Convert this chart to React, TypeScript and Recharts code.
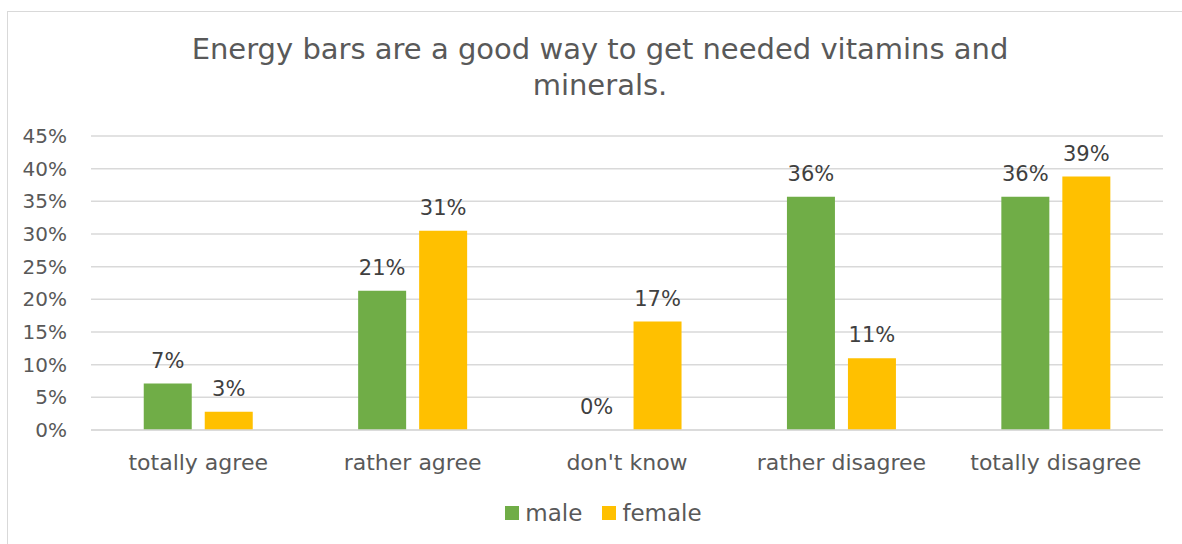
import React from "react";
import {
  BarChart,
  Bar,
  XAxis,
  YAxis,
  CartesianGrid,
  Legend,
  LabelList,
  Rectangle,
} from "recharts";

const categories = [
  "totally agree",
  "rather agree",
  "don't know",
  "rather disagree",
  "totally disagree",
];
const maleValues = [0.071, 0.213, 0, 0.357, 0.357];
const femaleValues = [0.028, 0.305, 0.166, 0.11, 0.388];
const yTicks = [0, 0.05, 0.1, 0.15, 0.2, 0.25, 0.3, 0.35, 0.4, 0.45];

const MALE = "#70AD47";
const FEMALE = "#FFC000";
const FONT = "'Century Gothic', 'DejaVu Sans', sans-serif";

const data = categories.map((name, i) => ({
  name,
  male: maleValues[i],
  female: femaleValues[i],
}));

const pct = (v: number) => `${Math.round(v * 100)}%`;

// zero values still need their label, but no visible bar
const barShape = (props: any) =>
  props.height < 1 ? <g /> : <Rectangle {...props} />;

const renderLegend = () => (
  <div
    style={{
      display: "flex",
      justifyContent: "center",
      alignItems: "center",
      fontFamily: FONT,
      fontSize: 23,
      color: "#595959",
      gap: 20,
      paddingTop: 6,
      paddingLeft: 44,
    }}
  >
    {[
      { label: "male", color: MALE },
      { label: "female", color: FEMALE },
    ].map((item) => (
      <div key={item.label} style={{ display: "flex", alignItems: "center" }}>
        <span
          style={{
            width: 14,
            height: 14,
            background: item.color,
            display: "inline-block",
            marginRight: 6,
          }}
        />
        <span>{item.label}</span>
      </div>
    ))}
  </div>
);

export default function App() {
  return (
    <div
      style={{
        position: "relative",
        width: 1182,
        height: 544,
        overflow: "hidden",
        background: "#fff",
      }}
    >
      <style>{`body{margin:0;overflow:hidden;}`}</style>
      <div
        style={{
          position: "absolute",
          left: 7,
          top: 11,
          width: 1220,
          height: 600,
          border: "1px solid #d9d9d9",
        }}
      />
      <div
        style={{
          position: "absolute",
          left: 0,
          top: 31,
          width: 1200,
          textAlign: "center",
          fontFamily: FONT,
          fontSize: 29,
          lineHeight: "36px",
          color: "#595959",
        }}
      >
        Energy bars are a good way to get needed vitamins and
        <br />
        minerals.
      </div>
      <div style={{ position: "absolute", left: 0, top: 0 }}>
        <BarChart
          width={1182}
          height={544}
          data={data}
          margin={{ top: 136, right: 19, left: 0, bottom: 10 }}
          barGap={13}
          barCategoryGap="24.6%"
        >
          <CartesianGrid vertical={false} stroke="#d9d9d9" strokeWidth={1.5} />
          <XAxis
            dataKey="name"
            axisLine={{ stroke: "#d9d9d9", strokeWidth: 1.5 }}
            tickLine={false}
            tickMargin={18}
            height={64}
            interval={0}
            tick={{ fontSize: 22, fill: "#595959", fontFamily: FONT }}
          />
          <YAxis
            width={91}
            domain={[0, 0.45]}
            ticks={yTicks}
            tickFormatter={pct}
            axisLine={false}
            tickLine={false}
            tickMargin={18}
            tick={{ fontSize: 20, fill: "#595959", fontFamily: FONT }}
          />
          <Legend verticalAlign="bottom" height={40} content={renderLegend} />
          <Bar
            dataKey="male"
            fill={MALE}
            minPointSize={0.5}
            shape={barShape}
            isAnimationActive={false}
          >
            <LabelList
              dataKey="male"
              position="top"
              offset={16}
              formatter={pct}
              style={{ fontSize: 21, fill: "#404040", fontFamily: FONT }}
            />
          </Bar>
          <Bar
            dataKey="female"
            fill={FEMALE}
            shape={barShape}
            isAnimationActive={false}
          >
            <LabelList
              dataKey="female"
              position="top"
              offset={16}
              formatter={pct}
              style={{ fontSize: 21, fill: "#404040", fontFamily: FONT }}
            />
          </Bar>
        </BarChart>
      </div>
    </div>
  );
}
